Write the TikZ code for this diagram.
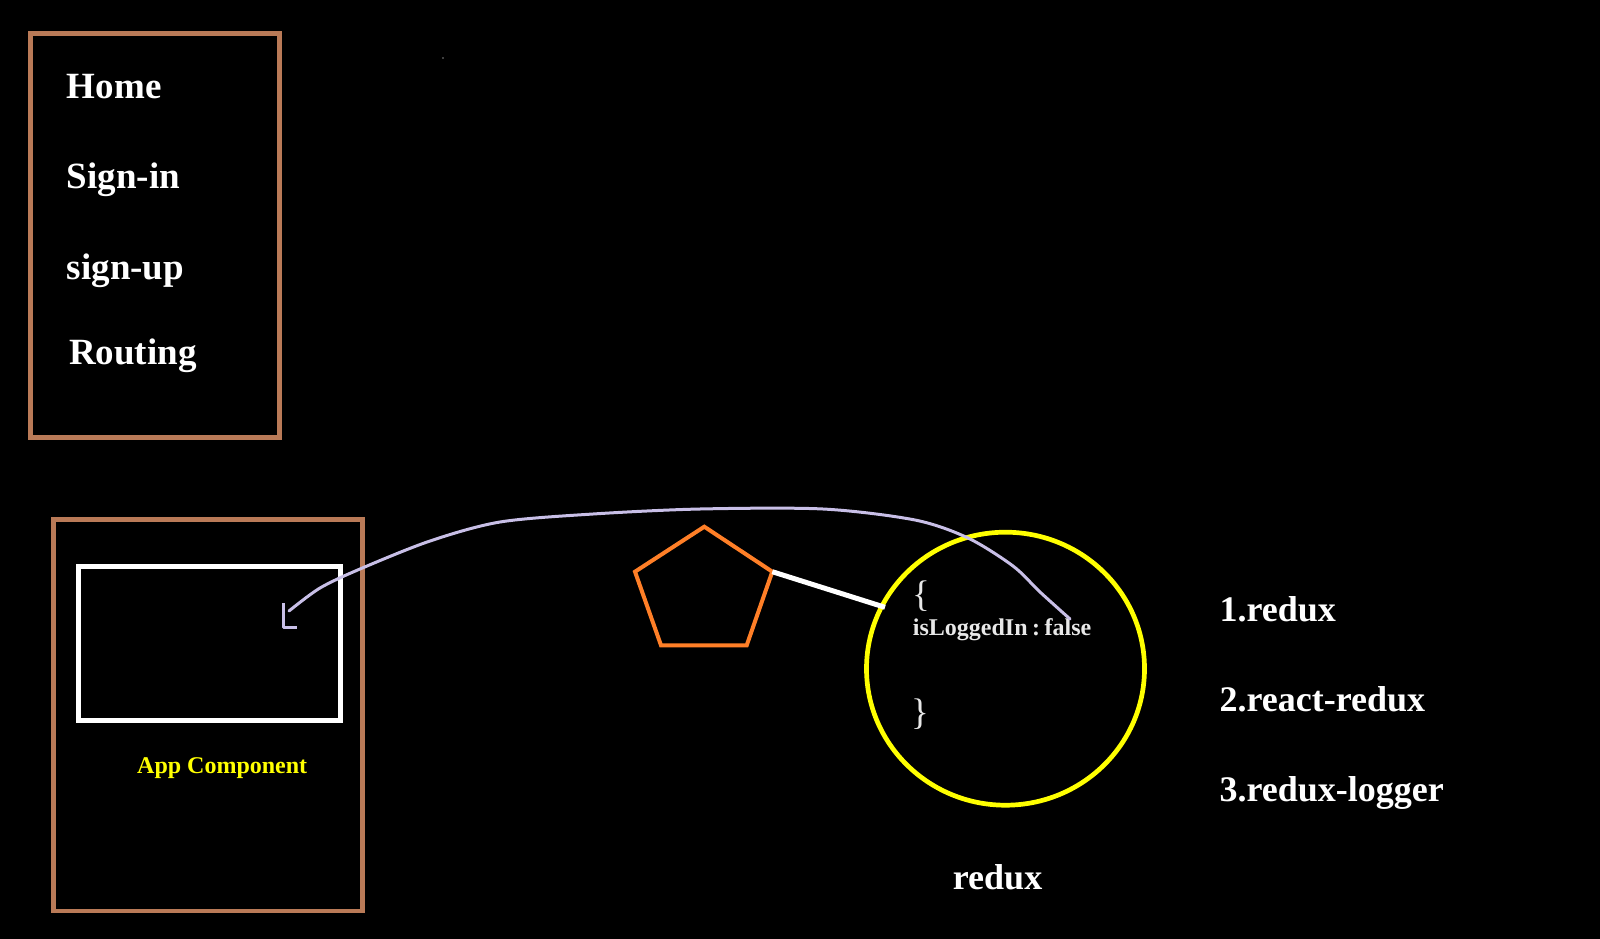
\documentclass[tikz,border=0pt]{standalone}
\usepackage{fontspec}
\setmainfont{Liberation Serif}
\usetikzlibrary{shapes.geometric}
\definecolor{boxbrown}{HTML}{B97A57}
\definecolor{pentorange}{HTML}{FF7F27}
\definecolor{lavender}{HTML}{C8BFE7}
\definecolor{circyellow}{HTML}{FFFF00}
\definecolor{softwhite}{HTML}{E8E8E8}
\begin{document}
\begin{tikzpicture}[x=1pt,y=-1pt,
  brownbox/.style={draw=boxbrown, line width=4.7pt, inner sep=0pt},
  whitebox/.style={draw=white, line width=5pt, inner sep=0pt},
  bigtxt/.style={text=white, inner sep=0pt, anchor=base west, font=\bfseries\fontsize{37}{44}\selectfont},
  listtxt/.style={text=white, inner sep=0pt, anchor=base west, font=\bfseries\fontsize{36}{43}\selectfont},
  smalltxt/.style={inner sep=0pt, anchor=base west, font=\bfseries\fontsize{24}{29}\selectfont},
  bracetxt/.style={text=softwhite, inner sep=0pt, anchor=base west, font=\fontsize{37}{44}\selectfont},
  pentline/.style={draw=pentorange, line width=4pt, line join=miter},
  linkline/.style={draw=white, line width=5pt},
  arrowline/.style={draw=lavender, line width=3pt, line cap=round, line join=round},
  storecircle/.style={draw=circyellow, line width=4.7pt, ellipse, inner sep=0pt}
]
\fill[black] (0,0) rectangle (1600,939);
\useasboundingbox (0,0) rectangle (1600,939);

% speck
\fill[gray] (443,58) circle (0.8);

% menu box
\node[brownbox, minimum width=249.4pt, minimum height=403.9pt] (menu) at (155,235.25) {};
\node[bigtxt] (home) at (66.7,98.3) {Home};
\node[bigtxt] (signin) at (66.7,188.3) {Sign-in};
\node[bigtxt] (signup) at (66.7,279.3) {sign-up};
\node[bigtxt] (routing) at (69,364.3) {Routing};

% app component box
\node[brownbox, minimum width=309pt, minimum height=391.8pt] (appbox) at (208,715.1) {};
\node[whitebox, minimum width=261.9pt, minimum height=153.7pt] (inner) at (209.25,643.35) {};
\node[smalltxt, text=circyellow] (applabel) at (137,773) {App Component};

% pentagon
\coordinate (pT) at (704.3,526.7);
\coordinate (pR) at (772.3,571.7);
\coordinate (pBR) at (746.7,645.3);
\coordinate (pBL) at (661,645.3);
\coordinate (pL) at (635,571.7);
\draw[pentline] (pT) -- (pR) -- (pBR) -- (pBL) -- (pL) -- cycle;

% store circle
\node[storecircle, minimum width=278pt, minimum height=273pt] (store) at (1005.5,668.7) {};
\coordinate (linkend) at (885,607.3);
\draw[linkline] (pR) -- (linkend);

\node[bracetxt] (lbrace) at (912,606.5) {\{};
\node[smalltxt, text=softwhite] (state) at (912.7,635) {isLoggedIn\hspace{4.5pt}:\hspace{4.5pt}false};
\node[bracetxt] (rbrace) at (911,724.5) {\}};

\node[listtxt] (reduxlabel) at (952.7,889.3) {redux};

% packages list
\node[listtxt] (pk1) at (1219.3,621.7) {1.redux};
\node[listtxt] (pk2) at (1219.3,711.7) {2.react-redux};
\node[listtxt] (pk3) at (1219.3,801.7) {3.redux-logger};

% hand-drawn arrow
\coordinate (arrS) at (1070,619);
\coordinate (arrE) at (289,611);
\draw[arrowline] plot[smooth, tension=0.5] coordinates {(arrS) (1040,592) (1013,566) (968,538) (915,520) (823,509) (700,509) (593,514) (500,522) (430,541) (360,569) (320,588) (arrE)};
\coordinate (headTop) at (283.3,603.3);
\coordinate (headCorner) at (283.3,627.3);
\coordinate (headEnd) at (297.3,627.3);
\draw[arrowline, line cap=butt] (headTop) -- (headCorner) -- (headEnd);
\end{tikzpicture}
\end{document}
